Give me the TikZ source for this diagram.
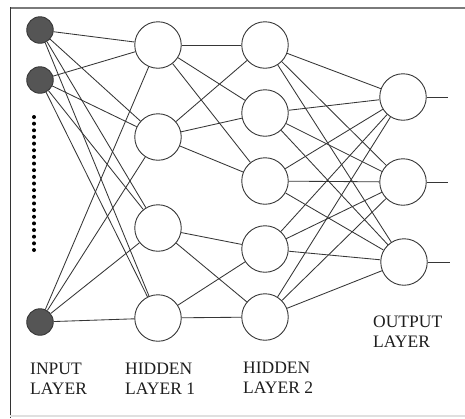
\documentclass[tikz,border=0pt]{standalone}
\usepackage{fontspec}
\setmainfont{Liberation Serif}
\definecolor{edgec}{HTML}{363636}
\definecolor{inc}{HTML}{555555}
\definecolor{framec}{HTML}{7A7A7A}
\definecolor{txtc}{HTML}{1E1E1E}
\tikzset{
  inneuron/.style={circle, draw=edgec, fill=inc, line width=0.9pt, minimum size=26.5pt, inner sep=0pt},
  neuron/.style={circle, draw=edgec, fill=white, line width=0.9pt, minimum size=46.5pt, inner sep=0pt},
  link/.style={draw=edgec, line width=0.85pt},
  lbl/.style={anchor=north west, align=left, inner sep=0pt, text=txtc, font={\fontsize{17.5}{20}\selectfont}}
}
\begin{document}
\begin{tikzpicture}[x=1pt,y=-1pt]
\useasboundingbox[fill=white] (0,0) rectangle (465,418);
% frame
\draw[framec, line width=2pt] (10,7.5) -- (465,7.5);
\draw[black!80, line width=0.8pt] (10,7) -- (10,418);
\draw[black!12, line width=1.5pt] (10,416) -- (465,416);
% dots
\foreach \i in {0,...,20} \fill[black] (34,117+6.65*\i) circle (2);
% nodes
\node[inneuron] (i1) at (40,30) {};
\node[inneuron] (i2) at (40,80) {};
\node[inneuron] (i3) at (40,322) {};
\node[neuron] (a1) at (158,45) {};
\node[neuron] (a2) at (158,137) {};
\node[neuron] (a3) at (158,228) {};
\node[neuron] (a4) at (158,318) {};
\node[neuron] (b1) at (265,45) {};
\node[neuron] (b2) at (265,113) {};
\node[neuron] (b3) at (265,181) {};
\node[neuron] (b4) at (265,249) {};
\node[neuron] (b5) at (265,317) {};
\node[neuron] (o1) at (403,97) {};
\node[neuron] (o2) at (403,182) {};
\node[neuron] (o3) at (404,262) {};
\coordinate (e1) at (448,97);
\coordinate (e2) at (448,182);
\coordinate (e3) at (450,262);
% edges
\foreach \s in {i1,i2,i3} \foreach \t in {a1,a2,a3,a4} \draw[link] (\s) -- (\t);
\foreach \s in {a1,a2} \foreach \t in {b1,b2,b3} \draw[link] (\s) -- (\t);
\foreach \s in {a3,a4} \foreach \t in {b4,b5} \draw[link] (\s) -- (\t);
\foreach \s in {b1,b2,b3,b4,b5} \foreach \t in {o1,o2,o3} \draw[link] (\s) -- (\t);
\draw[link] (o1) -- (e1);
\draw[link] (o2) -- (e2);
\draw[link] (o3) -- (e3);
% labels
\node[lbl] (l1) at (30,363) {INPUT\\LAYER};
\node[lbl] (l2) at (125,363) {HIDDEN\\LAYER 1};
\node[lbl] (l3) at (243,362) {HIDDEN\\LAYER 2};
\node[lbl] (l4) at (373,316) {OUTPUT\\LAYER};
\end{tikzpicture}
\end{document}
